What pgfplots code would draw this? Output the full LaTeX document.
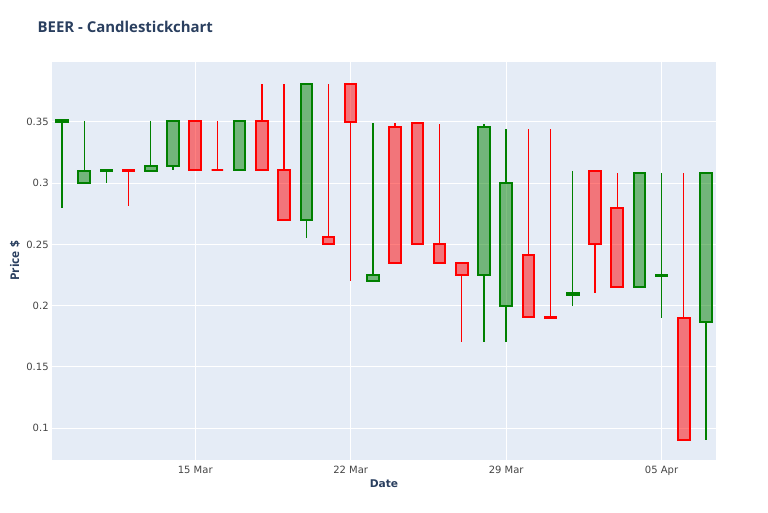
\documentclass[border=0pt]{standalone}
\usepackage{pgfplots}
\pgfplotsset{compat=1.18}
\usepackage{fontspec}
\setmainfont{DejaVu Sans}
\newfontfamily\osans{Open Sans}
\usetikzlibrary{calc}

\definecolor{bgplot}{HTML}{E5ECF6}
\definecolor{titlecol}{HTML}{2A3F5F}
\definecolor{incr}{HTML}{008000}
\definecolor{decr}{HTML}{FF0000}
\definecolor{ticklab}{HTML}{444444}

% day, open, high, low, close, colour
\newcommand\candle[6]{%
  \pgfmathsetmacro\ctop{max(#2,#5)}%
  \pgfmathsetmacro\cbot{min(#2,#5)}%
  \pgfmathsetmacro\cl{#1-0.26}%
  \pgfmathsetmacro\cr{#1+0.26}%
  \addplot[#6, line width=1pt] coordinates {(#1,#3) (#1,\ctop)};
  \addplot[#6, line width=1pt] coordinates {(#1,\cbot) (#1,#4)};
  \addplot[#6, line width=1.5pt, fill=#6, fill opacity=0.5] coordinates {(\cl,\cbot) (\cr,\cbot) (\cr,\ctop) (\cl,\ctop)} -- cycle;
}

\begin{document}
\begin{tikzpicture}
\begin{axis}[name=ax,
  scale only axis, width=498pt, height=298.5pt,
  xmin=-0.45, xmax=29.45, ymin=0.0739, ymax=0.399,
  axis background/.style={fill=bgplot},
  axis line style={draw=none},
  major tick length=0pt,
  grid=major, grid style={white, line width=0.75pt},
  xtick={6,13,20,27}, xticklabels={15 Mar,22 Mar,29 Mar,05 Apr},
  ytick={0.1,0.15,0.2,0.25,0.3,0.35}, yticklabels={0.1,0.15,0.2,0.25,0.3,0.35},
  tick label style={font=\fontsize{7.5}{9}\selectfont, text=ticklab},
  xticklabel style={yshift=-1pt},
  yticklabel style={xshift=1pt},
  title={BEER - Candlestickchart},
  title style={font=\osans\bfseries\fontsize{11.2}{13}\selectfont, text=titlecol,
    at={(rel axis cs:0,1)}, anchor=west, xshift=-14.25pt, yshift=20.25pt},
  xlabel={Date},
  xlabel style={font=\bfseries\fontsize{8}{10}\selectfont, text=titlecol,
    at={(rel axis cs:0.5,0)}, anchor=center, yshift=-18pt},
  ylabel={Price \$},
  ylabel style={font=\osans\bfseries\fontsize{9}{11}\selectfont, text=titlecol,
    at={([xshift=-27.75pt]rel axis cs:0,0.5)}, anchor=center},
]
\candle{0}{0.350}{0.352}{0.280}{0.352}{incr}
\candle{1}{0.300}{0.351}{0.300}{0.310}{incr}
\candle{2}{0.310}{0.311}{0.300}{0.311}{incr}
\candle{3}{0.311}{0.311}{0.281}{0.310}{decr}
\candle{4}{0.310}{0.351}{0.310}{0.314}{incr}
\candle{5}{0.314}{0.351}{0.311}{0.351}{incr}
\candle{6}{0.351}{0.351}{0.311}{0.311}{decr}
\candle{7}{0.311}{0.351}{0.311}{0.311}{decr}
\candle{8}{0.311}{0.351}{0.311}{0.351}{incr}
\candle{9}{0.351}{0.381}{0.311}{0.311}{decr}
\candle{10}{0.311}{0.381}{0.270}{0.270}{decr}
\candle{11}{0.270}{0.381}{0.2555}{0.381}{incr}
\candle{12}{0.256}{0.381}{0.250}{0.250}{decr}
\candle{13}{0.381}{0.381}{0.220}{0.350}{decr}
\candle{14}{0.220}{0.349}{0.220}{0.225}{incr}
\candle{15}{0.346}{0.349}{0.235}{0.235}{decr}
\candle{16}{0.349}{0.349}{0.250}{0.250}{decr}
\candle{17}{0.250}{0.348}{0.235}{0.235}{decr}
\candle{18}{0.235}{0.235}{0.170}{0.225}{decr}
\candle{19}{0.225}{0.348}{0.170}{0.346}{incr}
\candle{20}{0.200}{0.344}{0.170}{0.300}{incr}
\candle{21}{0.241}{0.344}{0.190}{0.191}{decr}
\candle{22}{0.191}{0.344}{0.190}{0.190}{decr}
\candle{23}{0.209}{0.310}{0.200}{0.210}{incr}
\candle{24}{0.310}{0.310}{0.210}{0.250}{decr}
\candle{25}{0.280}{0.308}{0.215}{0.215}{decr}
\candle{26}{0.215}{0.308}{0.215}{0.308}{incr}
\candle{27}{0.224}{0.308}{0.190}{0.225}{incr}
\candle{28}{0.190}{0.308}{0.090}{0.090}{decr}
\candle{29}{0.187}{0.308}{0.090}{0.308}{incr}
\end{axis}
\path ($(ax.south west)+(-39pt,-39pt)$) rectangle ($(ax.north east)+(39pt,46.5pt)$);
\end{tikzpicture}
\end{document}
